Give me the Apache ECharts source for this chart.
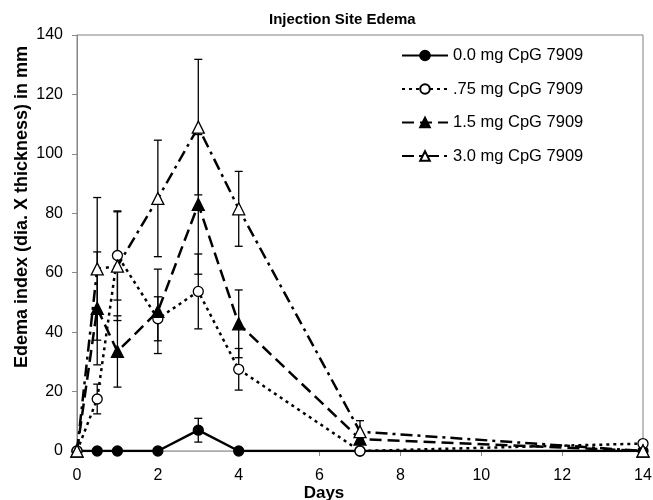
<!DOCTYPE html>
<html>
<head>
<meta charset="utf-8">
<script src="https://cdn.jsdelivr.net/npm/echarts@6/dist/echarts.min.js"></script>
<style>html,body{margin:0;padding:0;background:#fff;}#c{width:653px;height:500px;}</style>
</head>
<body>
<div id="c"></div>
<script>
var days = [0, 0.5, 1, 2, 3, 4, 7, 14];
var seriesNames = ['0.0 mg CpG 7909', '.75 mg CpG 7909', '1.5 mg CpG 7909', '3.0 mg CpG 7909'];
var dose0 = [0, 0, 0, 0, 7, 0, 0, 0];
var dose075 = [0, 17.5, 65.8, 44.5, 53.7, 27.5, 0, 2.5];
var dose15 = [0, 48, 33.5, 47, 83, 42.8, 4, 0];
var dose30 = [0, 61.3, 62.2, 85, 109, 81.5, 6.5, 0];
var err0 = [0, 0, 0, 0, 4, 0, 0, 0];
var err075 = [0, 5, 15, 7.4, 12.6, 7, 0, 0];
var err15 = [0, 19, 12, 14.2, 23.5, 11.4, 1.5, 0];
var err30 = [0, 24, 18.3, 19.6, 22.8, 12.6, 3.7, 0];
var yTicks = [0, 20, 40, 60, 80, 100, 120, 140];
var xTicks = [0, 2, 4, 6, 8, 10, 12, 14];

function pts(v) { return days.map(function (d, i) { return [d, v[i]]; }); }
function errRows(v, e) {
  var r = [];
  days.forEach(function (d, i) { if (e[i] > 0) r.push([d, v[i] - e[i], v[i] + e[i]]); });
  return r;
}
function errSeries(v, e) {
  return {
    type: 'custom', silent: true, z: 1,
    data: errRows(v, e),
    encode: { x: 0, y: [1, 2] },
    renderItem: function (params, api) {
      var x = api.value(0);
      var lo = api.coord([x, api.value(1)]);
      var hi = api.coord([x, api.value(2)]);
      var w = 4;
      var st = { stroke: '#000', lineWidth: 1.3 };
      return {
        type: 'group',
        children: [
          { type: 'line', shape: { x1: lo[0], y1: lo[1], x2: hi[0], y2: hi[1] }, style: st },
          { type: 'line', shape: { x1: lo[0] - w, y1: lo[1], x2: lo[0] + w, y2: lo[1] }, style: st },
          { type: 'line', shape: { x1: hi[0] - w, y1: hi[1], x2: hi[0] + w, y2: hi[1] }, style: st }
        ]
      };
    }
  };
}
function lineSeries(name, v, symbol, size, fill, dash) {
  return {
    name: name, type: 'line', data: pts(v), z: 3,
    symbol: symbol, symbolSize: size, showSymbol: true,
    itemStyle: { color: fill, borderColor: '#000', borderWidth: 1.3 },
    lineStyle: { color: '#000', width: 2.5, type: dash },
    emphasis: { disabled: true }
  };
}

var chart = echarts.init(document.getElementById('c'), null, { renderer: 'canvas' });
chart.setOption({
  animation: false,
  backgroundColor: '#fff',
  title: {
    text: 'Injection Site Edema', left: 264, top: 7,
    textStyle: { fontFamily: 'Liberation Sans', fontSize: 15, fontWeight: 'bold', color: '#000' }
  },
  legend: {
    data: seriesNames, orient: 'vertical', left: 396, top: 42,
    itemWidth: 46, itemHeight: 12, itemGap: 16.5,
    textStyle: { fontFamily: 'Liberation Sans', fontSize: 16.5, color: '#000' }
  },
  grid: { left: 77, right: 10, top: 35, bottom: 49, show: true, borderColor: '#808080', borderWidth: 1,
    containLabel: false, outerBoundsMode: 'none' },
  xAxis: {
    type: 'value', min: 0, max: 14, interval: 2,
    name: 'Days', nameLocation: 'middle', nameGap: 34, nameMoveOverlap: false,
    nameTextStyle: { fontFamily: 'Liberation Sans', fontSize: 17, fontWeight: 'bold', color: '#000', padding: [0, 72, 0, 0] },
    axisLine: { show: true, lineStyle: { color: '#aaa' } },
    axisTick: { show: true, length: 5, lineStyle: { color: '#888' } },
    axisLabel: { fontFamily: 'Liberation Sans', fontSize: 16, color: '#000', margin: 17,
      formatter: function (v) { return xTicks.indexOf(v) >= 0 ? String(v) : ''; } },
    splitLine: { show: false }
  },
  yAxis: {
    type: 'value', min: 0, max: 140, interval: 20,
    name: 'Edema index (dia. X thickness) in mm', nameLocation: 'middle', nameGap: 46, nameMoveOverlap: false,
    nameTextStyle: { fontFamily: 'Liberation Sans', fontSize: 18, fontWeight: 'bold', color: '#000', padding: [0, 0, 0, 72] },
    axisLine: { show: true, lineStyle: { color: '#888' } },
    axisTick: { show: true, length: 5, lineStyle: { color: '#888' } },
    axisLabel: { fontFamily: 'Liberation Sans', fontSize: 16, color: '#000', margin: 14,
      formatter: function (v) { return yTicks.indexOf(v) >= 0 ? String(v) : ''; } },
    splitLine: { show: false }
  },
  series: [
    errSeries(dose0, err0), errSeries(dose075, err075), errSeries(dose15, err15), errSeries(dose30, err30),
    lineSeries(seriesNames[0], dose0, 'circle', 10, '#000', 'solid'),
    lineSeries(seriesNames[1], dose075, 'circle', 10, '#fff', [3, 4]),
    lineSeries(seriesNames[2], dose15, 'triangle', 12, '#000', [12, 6]),
    lineSeries(seriesNames[3], dose30, 'triangle', 12, '#fff', [12, 5, 3, 5])
  ]
});
</script>
</body>
</html>
